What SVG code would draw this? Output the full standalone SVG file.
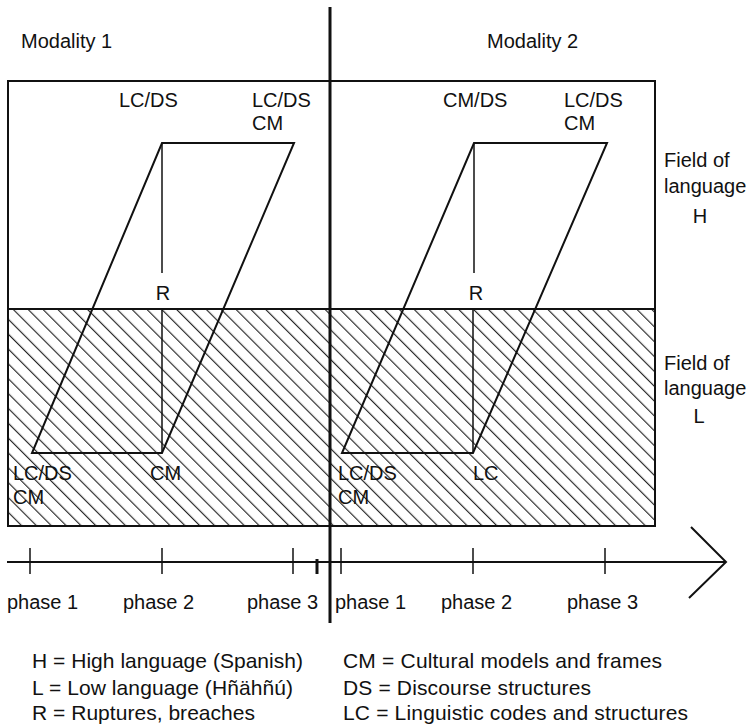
<svg xmlns="http://www.w3.org/2000/svg" width="755" height="725" viewBox="0 0 755 725">
  <style>
    text { font-family: "Liberation Sans", Arial, sans-serif; font-size: 20px; fill: #111; }
    .mid { text-anchor: middle; }
    .leg { font-size: 21px; }
    .frame { fill: none; stroke: #111; stroke-width: 2; }
    .edge { fill: none; stroke: #111; stroke-width: 2; stroke-linejoin: miter; }
    .thin { stroke: #111; stroke-width: 1.5; fill: none; }
    .tick { stroke: #111; stroke-width: 1.5; }
  </style>
  <defs>
    <pattern id="hatch" patternUnits="userSpaceOnUse" width="10.5" height="10.5" patternTransform="rotate(-45)">
      <line x1="0.6" y1="0" x2="0.6" y2="10.5" stroke="#1a1a1a" stroke-width="1.1"/>
    </pattern>
  </defs>
  <rect width="755" height="725" fill="#fff"/>

  <g id="field-L-area">
    <rect x="8" y="309" width="647" height="217" fill="url(#hatch)"/>
  </g>

  <g id="frame">
    <rect class="frame" x="8" y="81" width="647" height="445"/>
    <line class="frame" x1="8" y1="309" x2="655" y2="309"/>
  </g>

  <g id="modality1">
    <text x="21" y="48">Modality 1</text>
    <polygon class="edge" points="162,143 294,143 162,453 32,453"/>
    <line class="thin" x1="162" y1="143" x2="162" y2="273"/>
    <line class="thin" x1="162" y1="309" x2="162" y2="453"/>
    <text x="119" y="107">LC/DS</text>
    <text x="252" y="107">LC/DS</text>
    <text x="252" y="130">CM</text>
    <text class="mid" x="163" y="300">R</text>
    <text x="13" y="480">LC/DS</text>
    <text x="13" y="504">CM</text>
    <text x="150" y="480">CM</text>
  </g>

  <g id="modality2">
    <text x="487" y="48">Modality 2</text>
    <polygon class="edge" points="474,143 607,143 473,453 342,453"/>
    <line class="thin" x1="474" y1="143" x2="474" y2="273"/>
    <line class="thin" x1="473" y1="309" x2="473" y2="453"/>
    <text x="443" y="107">CM/DS</text>
    <text x="564" y="107">LC/DS</text>
    <text x="564" y="130">CM</text>
    <text class="mid" x="476" y="300">R</text>
    <text x="338" y="480">LC/DS</text>
    <text x="338" y="504">CM</text>
    <text x="473" y="480">LC</text>
  </g>

  <g id="field-H-label">
    <text x="664" y="167">Field of</text>
    <text x="664" y="193">language</text>
    <text class="mid" x="700" y="223">H</text>
  </g>
  <g id="field-L-label">
    <text x="664" y="370">Field of</text>
    <text x="664" y="395">language</text>
    <text class="mid" x="699" y="423">L</text>
  </g>

  <g id="connectors">
    <line x1="330" y1="7" x2="330" y2="623" stroke="#111" stroke-width="3"/>
    <line x1="7" y1="562" x2="726" y2="562" stroke="#111" stroke-width="2"/>
    <polyline points="691,527 726,562 689,598" fill="none" stroke="#111" stroke-width="2"/>
    <line class="tick" x1="30" y1="548" x2="30" y2="574"/>
    <line class="tick" x1="162" y1="548" x2="162" y2="574"/>
    <line class="tick" x1="293" y1="548" x2="293" y2="574"/>
    <line x1="317" y1="559" x2="317" y2="574" stroke="#111" stroke-width="3"/>
    <line class="tick" x1="341" y1="548" x2="341" y2="574"/>
    <line class="tick" x1="473" y1="548" x2="473" y2="574"/>
    <line class="tick" x1="605" y1="548" x2="605" y2="574"/>
  </g>

  <g id="phases">
    <text x="7" y="609">phase 1</text>
    <text x="123" y="609">phase 2</text>
    <text x="247" y="609">phase 3</text>
    <text x="335" y="609">phase 1</text>
    <text x="441" y="609">phase 2</text>
    <text x="567" y="609">phase 3</text>
  </g>

  <g id="legend">
    <text class="leg" x="32" y="668" textLength="271">H = High language (Spanish)</text>
    <text class="leg" x="32" y="695" textLength="261">L = Low language (Hñähñú)</text>
    <text class="leg" x="32" y="720" textLength="223">R = Ruptures, breaches</text>
    <text class="leg" x="343" y="668" textLength="319">CM = Cultural models and frames</text>
    <text class="leg" x="343" y="695" textLength="248">DS = Discourse structures</text>
    <text class="leg" x="343" y="720" textLength="345">LC = Linguistic codes and structures</text>
  </g>
</svg>
